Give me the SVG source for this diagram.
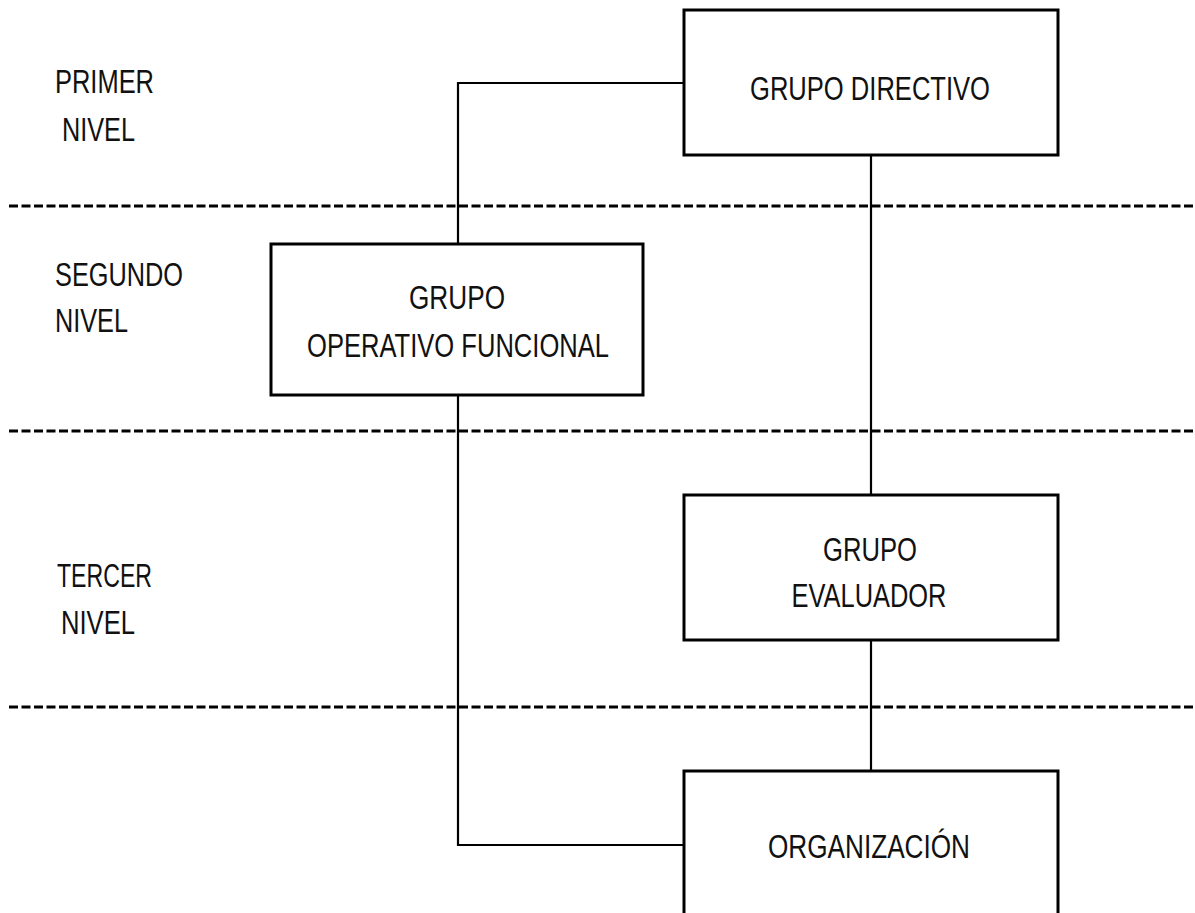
<svg xmlns="http://www.w3.org/2000/svg" width="1195" height="913" viewBox="0 0 1195 913">
<style>
.bg{fill:#fff}
.box{fill:#fff;stroke:#000;stroke-width:3}
.conn{fill:none;stroke:#000;stroke-width:2.2}
.sep{fill:none;stroke:#000;stroke-width:3;stroke-dasharray:9 3.5}
.t{font-family:"Liberation Sans Narrow","Liberation Sans",Arial,sans-serif;font-size:33px;fill:#111}
.c{text-anchor:middle}
</style>
<rect class="bg" x="0" y="0" width="1195" height="913"/>
<g id="separators">
<line class="sep" x1="9" y1="206" x2="1195" y2="206"/>
<line class="sep" x1="9" y1="431" x2="1195" y2="431"/>
<line class="sep" x1="9" y1="707" x2="1195" y2="707"/>
</g>
<g id="levels">
<text class="t" x="55" y="93" textLength="99" lengthAdjust="spacingAndGlyphs">PRIMER</text>
<text class="t" x="62" y="141" textLength="73" lengthAdjust="spacingAndGlyphs">NIVEL</text>
<text class="t" x="55" y="286" textLength="128" lengthAdjust="spacingAndGlyphs">SEGUNDO</text>
<text class="t" x="55" y="332" textLength="73" lengthAdjust="spacingAndGlyphs">NIVEL</text>
<text class="t" x="57" y="587" textLength="95" lengthAdjust="spacingAndGlyphs">TERCER</text>
<text class="t" x="61" y="634" textLength="74" lengthAdjust="spacingAndGlyphs">NIVEL</text>
</g>
<g id="connectors">
<polyline class="conn" points="684,83 458,83 458,244"/>
<line class="conn" x1="871" y1="155" x2="871" y2="495"/>
<polyline class="conn" points="458,395 458,845 684,845"/>
<line class="conn" x1="871" y1="640" x2="871" y2="771"/>
</g>
<g id="grupo-directivo">
<rect class="box" x="684" y="10" width="374" height="145"/>
<text class="t c" x="870" y="100" textLength="240" lengthAdjust="spacingAndGlyphs">GRUPO DIRECTIVO</text>
</g>
<g id="grupo-operativo">
<rect class="box" x="271" y="244" width="372" height="151"/>
<text class="t c" x="457" y="309" textLength="96" lengthAdjust="spacingAndGlyphs">GRUPO</text>
<text class="t c" x="458" y="357" textLength="302" lengthAdjust="spacingAndGlyphs">OPERATIVO FUNCIONAL</text>
</g>
<g id="grupo-evaluador">
<rect class="box" x="684" y="495" width="374" height="145"/>
<text class="t c" x="870" y="561" textLength="94" lengthAdjust="spacingAndGlyphs">GRUPO</text>
<text class="t c" x="869" y="607" textLength="155" lengthAdjust="spacingAndGlyphs">EVALUADOR</text>
</g>
<g id="organizacion">
<rect class="box" x="684" y="771" width="374" height="160"/>
<text class="t c" x="869" y="858" textLength="202" lengthAdjust="spacingAndGlyphs">ORGANIZACIÓN</text>
</g>
</svg>
